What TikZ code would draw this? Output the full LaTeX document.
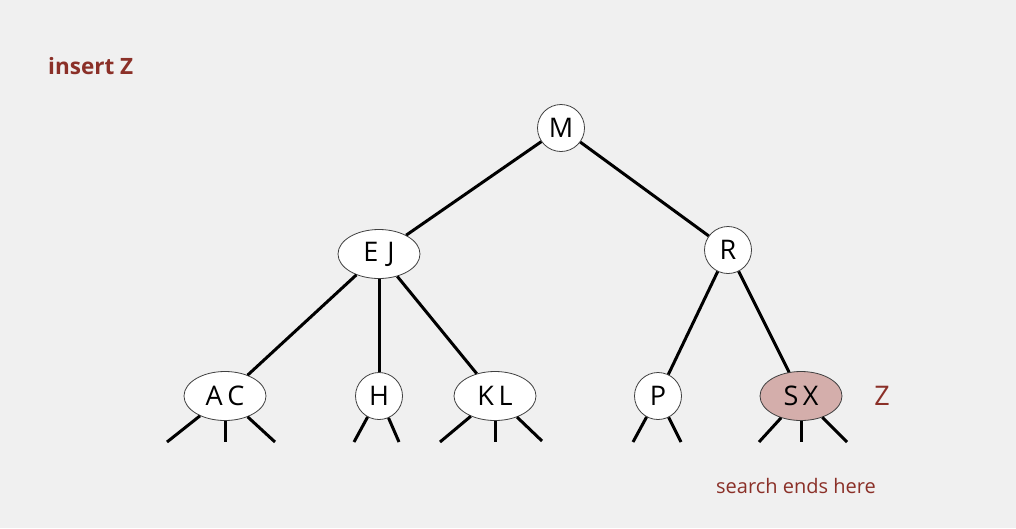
\documentclass[tikz,border=0pt]{standalone}
\usepackage{fontspec}
\setmainfont{Open Sans}
\usetikzlibrary{shapes.geometric}
\definecolor{bgc}{RGB}{240,240,240}
\definecolor{accent}{RGB}{139,48,40}
\definecolor{hit}{RGB}{212,174,171}
\begin{document}
\begin{tikzpicture}[x=1pt,y=-1pt,
  keytext/.style={font=\fontsize{27}{30}\selectfont},
  onekey/.style={circle,draw=black!75,line width=0.8pt,fill=white,minimum size=47pt,inner sep=0pt,keytext},
  twokey/.style={ellipse,draw=black!75,line width=0.8pt,fill=white,minimum width=82pt,minimum height=49pt,inner sep=0pt,keytext},
  link/.style={line width=3pt,black},
  note/.style={text=accent,inner sep=0pt}]
  \fill[bgc] (0,0) rectangle (1016,528);
  \useasboundingbox (0,0) rectangle (1016,528);

  % keys of the 2-3 tree
  \node[onekey] (m) at (561,128) {M};
  \node[twokey] (ej) at (379,254) {E\,\,J};
  \node[onekey] (r) at (728,250) {R};
  \node[twokey] (ac) at (225,396) {A\,C};
  \node[onekey] (h) at (379,396) {H};
  \node[twokey] (kl) at (495,396) {K\,L};
  \node[onekey] (p) at (658,396) {P};
  \node[twokey,fill=hit] (sx) at (801,396) {S\,X};

  % tree links
  \draw[link] (m) -- (ej);
  \draw[link] (m) -- (r);
  \draw[link] (ej) -- (ac);
  \draw[link] (ej.south) -- (h);
  \draw[link] (ej) -- (kl);
  \draw[link] (r) -- (p);
  \draw[link] (r) -- (sx);

  % null links below the bottom level
  \coordinate (ac1) at (167,442); \coordinate (ac2) at (225,442); \coordinate (ac3) at (275,442);
  \coordinate (h1) at (354,442);  \coordinate (h2) at (399,442);
  \coordinate (kl1) at (440,442); \coordinate (kl2) at (495,442); \coordinate (kl3) at (542,441);
  \coordinate (p1) at (633,442);  \coordinate (p2) at (681,442);
  \coordinate (sx1) at (759,442); \coordinate (sx2) at (801,442); \coordinate (sx3) at (847,442);
  \draw[link] (ac) -- (ac1); \draw[link] (ac.south) -- (ac2); \draw[link] (ac) -- (ac3);
  \draw[link] (h) -- (h1); \draw[link] (h) -- (h2);
  \draw[link] (kl) -- (kl1); \draw[link] (kl.south) -- (kl2); \draw[link] (kl) -- (kl3);
  \draw[link] (p) -- (p1); \draw[link] (p) -- (p2);
  \draw[link] (sx) -- (sx1); \draw[link] (sx.south) -- (sx2); \draw[link] (sx) -- (sx3);

  % annotations
  \node[note,anchor=west,font=\bfseries\fontsize{22.5}{26}\selectfont] (title) at (48,66) {insert Z};
  \node[note,keytext] (z) at (882,396) {Z};
  \node[note,font=\fontsize{20}{24}\selectfont] (ends) at (796,486) {search ends here};
\end{tikzpicture}
\end{document}
